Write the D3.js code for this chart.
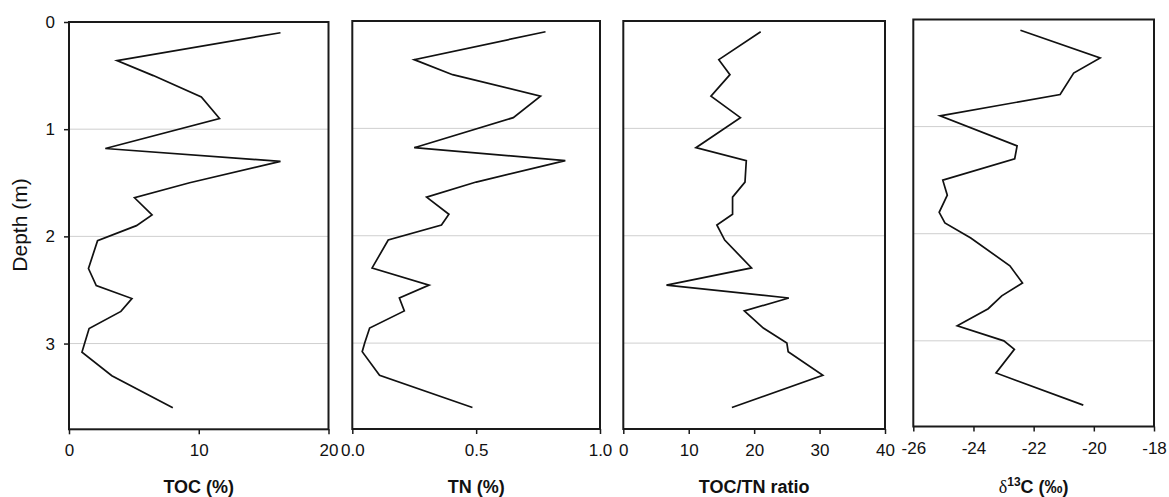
<!DOCTYPE html>
<html>
<head>
<meta charset="utf-8">
<script src="https://cdn.jsdelivr.net/npm/d3@7/dist/d3.min.js"></script>
<style>
  html, body { margin: 0; padding: 0; background: #fff; }
  svg { display: block; }
  text { font-family: "Liberation Sans", Arial, sans-serif; fill: #111; }
</style>
</head>
<body>
<svg id="chart" width="1169" height="497"></svg>
<script>
// Sample depths (m) down the core
const depth = [0.10, 0.36, 0.50, 0.70, 0.90, 1.18, 1.30, 1.50, 1.64, 1.80, 1.90,
               2.04, 2.30, 2.46, 2.58, 2.70, 2.86, 3.00, 3.08, 3.30, 3.60];

// Total organic carbon (%)
const toc = [16.3, 3.7, 6.5, 10.2, 11.6, 2.8, 16.3, 9.3, 5.05, 6.4, 5.2,
             2.2, 1.5, 2.1, 4.85, 4.0, 1.55, 1.2, 1.0, 3.3, 8.0];

// Total nitrogen (%)
const tn = [0.78, 0.25, 0.405, 0.76, 0.65, 0.25, 0.86, 0.50, 0.30, 0.39, 0.36,
            0.145, 0.08, 0.31, 0.19, 0.21, 0.07, 0.05, 0.04, 0.11, 0.485];

// TOC/TN ratio
const ratio = [21.0, 14.6, 16.3, 13.4, 17.9, 11.1, 18.8, 18.6, 16.7, 16.7, 14.3,
               15.5, 19.6, 6.6, 25.3, 18.5, 21.4, 25.0, 25.2, 30.5, 16.6];

// Stable carbon isotope ratio (per mil)
const d13c = [-22.44, -19.79, -20.67, -21.12, -25.11, -22.55, -22.63, -25.02, -24.87, -25.14, -24.95,
              -24.09, -22.79, -22.37, -23.06, -23.51, -24.54, -22.99, -22.64, -23.25, -20.35];

// Axis ticks
const depthTicks = [0, 1, 2, 3];
const tocTicks = [0, 10, 20];
const tnTicks = [0, 0.5, 1.0];
const ratioTicks = [0, 10, 20, 30, 40];
const d13cTicks = [-26, -24, -22, -20, -18];

const svg = d3.select("#chart");

// Panel frames (pixel boxes) and series
const panels = [
  { values: toc,   domain: [0, 20],    ticks: tocTicks,   fmt: d => String(d),
    x0: 69,    x1: 328.5, y0: 22,   y1: 429.3, title: "TOC (%)" },
  { values: tn,    domain: [0, 1],     ticks: tnTicks,    fmt: d3.format(".1f"),
    x0: 352.3, x1: 600,   y0: 21,   y1: 429,   title: "TN (%)" },
  { values: ratio, domain: [0, 40],    ticks: ratioTicks, fmt: d => String(d),
    x0: 623.3, x1: 885,   y0: 21,   y1: 429,   title: "TOC/TN ratio" },
  { values: d13c,  domain: [-26, -18], ticks: d13cTicks,  fmt: d => String(d),
    x0: 913.3, x1: 1154,  y0: 19.5, y1: 426.5, title: null }
];

const depthDomain = [0, 3.8];

panels.forEach((p, i) => {
  const x = d3.scaleLinear().domain(p.domain).range([p.x0, p.x1]);
  const y = d3.scaleLinear().domain(depthDomain).range([p.y0, p.y1]);
  const g = svg.append("g");

  // horizontal depth gridlines
  g.selectAll("line.grid")
    .data(depthTicks.filter(d => d > 0))
    .enter().append("line")
    .attr("x1", p.x0).attr("x2", p.x1)
    .attr("y1", d => y(d)).attr("y2", d => y(d))
    .attr("stroke", "#cfcfcf").attr("stroke-width", 1);

  // profile line
  const line = d3.line()
    .x(d => x(d[0]))
    .y(d => y(d[1]));
  g.append("path")
    .datum(p.values.map((v, k) => [v, depth[k]]))
    .attr("d", line)
    .attr("fill", "none")
    .attr("stroke", "#111")
    .attr("stroke-width", 1.7)
    .attr("stroke-linejoin", "miter");

  // frame
  g.append("rect")
    .attr("x", p.x0).attr("y", p.y0)
    .attr("width", p.x1 - p.x0).attr("height", p.y1 - p.y0)
    .attr("fill", "none").attr("stroke", "#1a1a1a").attr("stroke-width", 2);

  // bottom axis
  const xAxis = d3.axisBottom(x).tickValues(p.ticks).tickFormat(p.fmt)
    .tickSize(5).tickSizeOuter(0).tickPadding(10);
  const ax = g.append("g").attr("transform", `translate(0,${p.y1})`).call(xAxis);
  ax.select(".domain").remove();
  ax.selectAll(".tick line").attr("stroke", "#1a1a1a").attr("stroke-width", 1.5);
  ax.selectAll(".tick text")
    .attr("font-family", "Liberation Sans, Arial, sans-serif")
    .attr("font-size", 17).attr("fill", "#111");

  // left depth axis on the first panel only
  if (i === 0) {
    const yAxis = d3.axisLeft(y).tickValues(depthTicks).tickFormat(d => String(d))
      .tickSize(5).tickSizeOuter(0).tickPadding(9);
    const ay = g.append("g").attr("transform", `translate(${p.x0},0)`).call(yAxis);
    ay.select(".domain").remove();
    ay.selectAll(".tick line").attr("stroke", "#1a1a1a").attr("stroke-width", 1.5);
    ay.selectAll(".tick text")
      .attr("font-family", "Liberation Sans, Arial, sans-serif")
      .attr("font-size", 17).attr("fill", "#111");
  }

  // panel title
  const cx = (p.x0 + p.x1) / 2;
  if (p.title) {
    g.append("text")
      .attr("x", cx).attr("y", 493)
      .attr("text-anchor", "middle")
      .attr("font-size", 18).attr("font-weight", "bold")
      .text(p.title);
  } else {
    const t = g.append("text")
      .attr("x", cx).attr("y", 493)
      .attr("text-anchor", "middle")
      .attr("font-size", 18).attr("font-weight", "bold");
    t.append("tspan")
      .attr("font-family", "Liberation Serif, Times New Roman, serif")
      .attr("font-weight", "normal")
      .text("δ");
    t.append("tspan")
      .attr("font-size", 12).attr("dy", -7)
      .text("13");
    t.append("tspan")
      .attr("dy", 7)
      .text("C (‰)");
  }
});

// depth axis title
svg.append("text")
  .attr("transform", "translate(27,225) rotate(-90)")
  .attr("text-anchor", "middle")
  .attr("font-size", 21)
  .text("Depth (m)");
</script>
</body>
</html>
